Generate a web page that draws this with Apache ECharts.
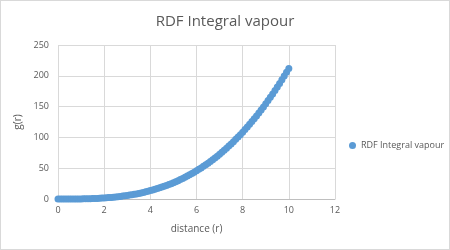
<!DOCTYPE html>
<html><head><meta charset="utf-8">
<script src="https://cdn.jsdelivr.net/npm/echarts@6/dist/echarts.min.js"></script>
<style>html,body{margin:0;padding:0;background:#fff}#c{width:450px;height:250px;box-sizing:border-box;border:1px solid #d9d9d9}</style>
</head><body><div id="c"></div>
<script>
const seriesName = 'RDF Integral vapour';
const distance = [0,0.1,0.2,0.3,0.4,0.5,0.6,0.7,0.8,0.9,1,1.1,1.2,1.3,1.4,1.5,1.6,1.7,1.8,1.9,2,2.1,2.2,2.3,2.4,2.5,2.6,2.7,2.8,2.9,3,3.1,3.2,3.3,3.4,3.5,3.6,3.7,3.8,3.9,4,4.1,4.2,4.3,4.4,4.5,4.6,4.7,4.8,4.9,5,5.1,5.2,5.3,5.4,5.5,5.6,5.7,5.8,5.9,6,6.1,6.2,6.3,6.4,6.5,6.6,6.7,6.8,6.9,7,7.1,7.2,7.3,7.4,7.5,7.6,7.7,7.8,7.9,8,8.1,8.2,8.3,8.4,8.5,8.6,8.7,8.8,8.9,9,9.1,9.2,9.3,9.4,9.5,9.6,9.7,9.8,9.9,10];
const gValues = [0,0,0,0,0,0,0,0.1,0.1,0.2,0.2,0.3,0.4,0.5,0.6,0.7,0.9,1.0,1.2,1.5,1.7,2.0,2.3,2.6,2.9,3.3,3.7,4.2,4.7,5.2,5.7,6.3,6.9,7.6,8.3,9.1,9.9,10.7,11.6,12.6,13.6,14.6,15.7,16.9,18.1,19.3,20.6,22.0,23.4,24.9,26.5,28.1,29.8,31.6,33.4,35.3,37.2,39.3,41.4,43.5,45.8,48.1,50.5,53.0,55.6,58.2,60.9,63.8,66.7,69.6,72.7,75.9,79.1,82.5,85.9,89.4,93.1,96.8,100.6,104.5,108.5,112.7,116.9,121.2,125.7,130.2,134.8,139.6,144.5,149.5,154.5,159.8,165.1,170.5,176.1,181.8,187.6,193.5,199.5,205.7,212.0];
const xTicks = {min:0,max:12,interval:2};
const yTicks = {min:0,max:250,interval:50};
const points = distance.map((d,i)=>[d,gValues[i]]);
const font = 'Open Sans, Noto Sans, sans-serif';
const grey = '#595959';
const chart = echarts.init(document.getElementById('c'));
chart.setOption({
  animation:false,
  textStyle:{fontFamily:font},
  title:{text:'RDF Integral vapour',left:'center',top:8,textStyle:{fontSize:15,fontWeight:'normal',color:grey,fontFamily:font}},
  legend:{data:[{name:seriesName,icon:'circle'}],left:343,top:135,itemWidth:7,itemHeight:7,itemGap:3,textStyle:{fontSize:9,color:grey,fontFamily:font}},
  grid:{left:57,right:114,top:44,bottom:50,containLabel:false},
  xAxis:{type:'value',min:xTicks.min,max:xTicks.max,interval:xTicks.interval,
    name:'distance (r)',nameLocation:'middle',nameGap:25,nameTextStyle:{fontSize:10,color:grey},
    axisLine:{show:true,lineStyle:{color:'#bfbfbf'}},axisTick:{show:false},
    axisLabel:{fontSize:9,color:grey,margin:7},
    splitLine:{show:true,lineStyle:{color:'#d9d9d9'}}},
  yAxis:{type:'value',min:yTicks.min,max:yTicks.max,interval:yTicks.interval,
    name:'g(r)',nameLocation:'middle',nameGap:30,nameTextStyle:{fontSize:10,color:grey},
    axisLine:{show:false},axisTick:{show:false},
    axisLabel:{fontSize:9,color:grey,margin:9},
    splitLine:{show:true,lineStyle:{color:'#d9d9d9'}}},
  series:[{name:seriesName,type:'scatter',data:points,symbol:'circle',symbolSize:7,
    itemStyle:{color:'#5B9BD5',opacity:1}}]
});
</script></body></html>
